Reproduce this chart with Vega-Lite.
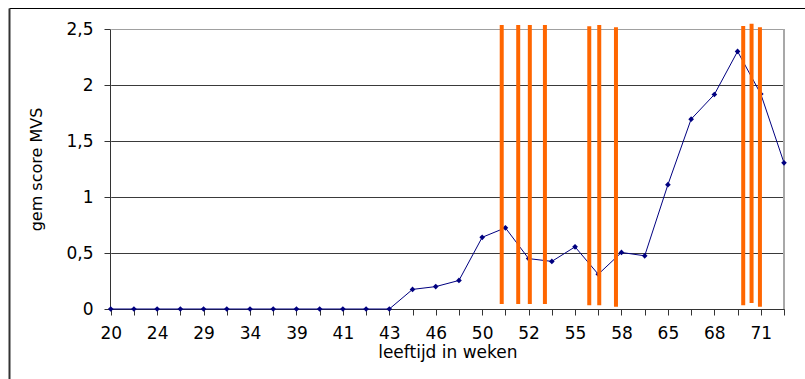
{
  "$schema": "https://vega.github.io/schema/vega-lite/v6.json",
  "width": 796,
  "height": 371,
  "autosize": "none",
  "padding": {"left": 9, "top": 8, "right": 0, "bottom": 0},
  "background": "white",
  "config": {"view": {"stroke": null}, "font": "DejaVu Sans"},
  "resolve": {"scale": {"x": "independent", "y": "independent"}},
  "layer": [
    {
      "data": {
        "values": [
          {"week": 20, "score": 0},
          {"week": 22, "score": 0},
          {"week": 24, "score": 0},
          {"week": 27, "score": 0},
          {"week": 29, "score": 0},
          {"week": 32, "score": 0},
          {"week": 34, "score": 0},
          {"week": 37, "score": 0},
          {"week": 39, "score": 0},
          {"week": 40, "score": 0},
          {"week": 41, "score": 0},
          {"week": 42, "score": 0},
          {"week": 43, "score": 0},
          {"week": 44, "score": 0.175},
          {"week": 46, "score": 0.2},
          {"week": 48, "score": 0.255},
          {"week": 50, "score": 0.64},
          {"week": 51, "score": 0.725},
          {"week": 52, "score": 0.45},
          {"week": 53, "score": 0.425},
          {"week": 55, "score": 0.555},
          {"week": 56, "score": 0.31},
          {"week": 58, "score": 0.505},
          {"week": 60, "score": 0.475},
          {"week": 65, "score": 1.11},
          {"week": 66, "score": 1.695},
          {"week": 68, "score": 1.915},
          {"week": 70, "score": 2.3},
          {"week": 71, "score": 1.92},
          {"week": 72, "score": 1.305}
        ]
      },
      "encoding": {
        "x": {
          "field": "week",
          "type": "ordinal",
          "scale": {"type": "point", "range": [101.7, 775], "padding": 0},
          "axis": {
            "orient": "bottom",
            "offset": -70,
            "title": "leeftijd in weken",
            "labelExpr": "indexof(['20','24','29','34','39','41','43','46','50','52','55','58','65','68','71'], datum.label) >= 0 ? datum.label : ''",
            "labelAngle": 0,
            "labelOverlap": false,
            "labelFontSize": 17,
            "labelColor": "#000000",
            "labelPadding": 10,
            "tickSize": 6,
            "tickColor": "#333333",
            "domainColor": "#333333",
            "domainWidth": 1,
            "grid": false,
            "titleFontSize": 17,
            "titleFontWeight": "normal",
            "titleColor": "#000000",
            "titlePadding": 3
          }
        },
        "y": {
          "field": "score",
          "type": "quantitative",
          "scale": {"domain": [0, 2.5], "range": [301, 21], "nice": false},
          "axis": {
            "orient": "left",
            "offset": -101,
            "values": [0, 0.5, 1, 1.5, 2, 2.5],
            "labelExpr": "replace(format(datum.value, '~g'), '.', ',')",
            "grid": true,
            "gridColor": {"condition": {"test": "datum.value >= 2.5", "value": "#a0a0a0"}, "value": "#3a3a3a"},
            "gridWidth": 1,
            "tickSize": 6,
            "tickColor": "#333333",
            "domainColor": "#333333",
            "labelPadding": 11,
            "labelFontSize": 17,
            "labelColor": "#000000",
            "title": "gem score MVS",
            "titleFontSize": 16,
            "titleFontWeight": "normal",
            "titleColor": "#000000",
            "titlePadding": 21
          }
        }
      },
      "layer": [
        {
          "data": {"values": [{"week": 72, "score": 0, "score_top": 2.5}]},
          "mark": {"type": "rule", "color": "#a8a8a8", "strokeWidth": 2},
          "encoding": {"y2": {"field": "score_top"}}
        },
        {"mark": {"type": "line", "color": "#000080", "strokeWidth": 1}},
        {"mark": {"type": "point", "shape": "diamond", "filled": true, "size": 32, "color": "#000080", "opacity": 1}}
      ]
    },
    {
      "data": {
        "values": [
          {"pos": 16.84, "top": 2.536, "bottom": 0.044},
          {"pos": 17.55, "top": 2.536, "bottom": 0.044},
          {"pos": 18.05, "top": 2.536, "bottom": 0.044},
          {"pos": 18.7, "top": 2.536, "bottom": 0.044},
          {"pos": 20.61, "top": 2.524, "bottom": 0.033},
          {"pos": 21.04, "top": 2.536, "bottom": 0.033},
          {"pos": 21.76, "top": 2.515, "bottom": 0.02},
          {"pos": 27.24, "top": 2.526, "bottom": 0.033},
          {"pos": 27.6, "top": 2.547, "bottom": 0.053},
          {"pos": 27.96, "top": 2.515, "bottom": 0.02}
        ]
      },
      "mark": {"type": "rule", "color": "#ff6600", "strokeWidth": 4},
      "encoding": {
        "x": {
          "field": "pos",
          "type": "quantitative",
          "scale": {"domain": [-4.38, 29.901], "nice": false, "zero": false},
          "axis": {"orient": "top", "offset": 0, "domainColor": "#000000", "domainWidth": 1, "ticks": false, "labels": false, "grid": false, "title": null}
        },
        "y": {
          "field": "top",
          "type": "quantitative",
          "scale": {"domain": [-0.625, 2.6875], "nice": false, "zero": false},
          "axis": {"orient": "left", "offset": 0, "domainColor": "#333333", "domainWidth": 2, "ticks": false, "labels": false, "grid": false, "title": null}
        },
        "y2": {"field": "bottom"}
      }
    }
  ]
}
